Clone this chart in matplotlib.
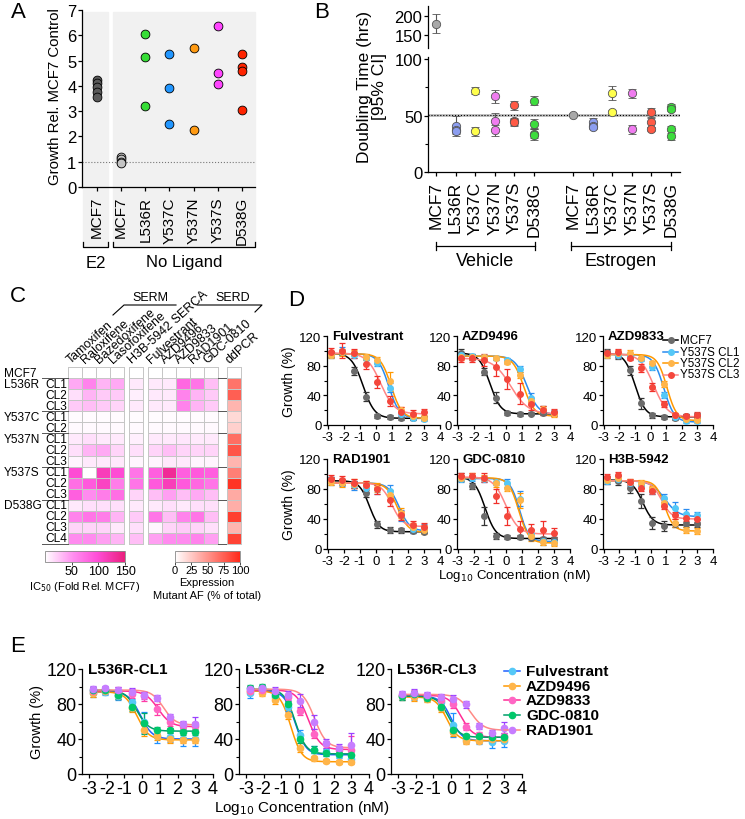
import numpy as np
import matplotlib
matplotlib.use('Agg')
import matplotlib.pyplot as plt
from matplotlib.lines import Line2D
from matplotlib.patches import Rectangle
from matplotlib.colors import LinearSegmentedColormap, Normalize
from matplotlib.cm import ScalarMappable

plt.rcParams['font.family'] = ['Liberation Sans', 'DejaVu Sans']
plt.rcParams['axes.unicode_minus'] = False
plt.rcParams['axes.linewidth'] = 0.9
plt.rcParams['xtick.major.width'] = 0.9
plt.rcParams['ytick.major.width'] = 0.9
plt.rcParams['ytick.minor.width'] = 0.8

# ---------------- panel A: growth relative to MCF7 ----------------
A_cats = ['MCF7', 'MCF7', 'L536R', 'Y537C', 'Y537N', 'Y537S', 'D538G']
A_vals = [[4.25, 4.1, 3.95, 3.75, 3.55],
          [1.2, 1.1, 1.0, 0.95],
          [6.05, 5.15, 3.2],
          [5.25, 3.9, 2.5],
          [5.5, 2.25],
          [6.35, 4.5, 4.07],
          [5.25, 4.75, 4.6, 3.05]]
A_colors = ['#5a5a5a', '#c4c4c4', '#35dd35', '#2196ff', '#ff9a12', '#ff45ff', '#ff2400']

# ---------------- panel B: doubling time ----------------
B_cats = ['MCF7', 'L536R', 'Y537C', 'Y537N', 'Y537S', 'D538G']
B_colors = ['#a8a8a8', '#8c9ef0', '#ffff4d', '#f07cf0', '#ff5a45', '#3ddc3d']
veh_mcf7 = 180
veh_mcf7_err = 25
veh_vals = [[], [41, 37, 36], [72, 36], [67, 45, 37], [59, 45, 44], [63, 43, 34, 33]]
veh_err = [[], [9, 2, 2], [3, 4], [6, 7, 5], [4, 3, 3], [4, 4, 4, 5]]
est_vals = [[51], [44, 41, 40], [70, 53], [70, 38], [53, 44, 38], [58, 56, 38, 32]]
est_err = [[1], [4, 2, 2], [6, 2], [4, 4], [4, 4, 2], [2, 2, 3, 4]]

# ---------------- panel C: heat map ----------------
row_group = ['MCF7', 'L536R', '', '', 'Y537C', '', 'Y537N', '', '', 'Y537S', '', '',
             'D538G', '', '', '']
row_clone = ['', 'CL1', 'CL2', 'CL3', 'CL1', 'CL2', 'CL1', 'CL2', 'CL3', 'CL1', 'CL2',
             'CL3', 'CL1', 'CL2', 'CL3', 'CL4']
drug_cols = ['Tamoxifen', 'Raloxifene', 'Bazedoxifene', 'Lasofoxifene', 'H3B-5942 SERCA',
             'Fulvestrant', 'AZD9496', 'AZD9833', 'RAD1901', 'GDC-0810']
ic50_fold = [[0, 0, 0, 0, 0, 0, 0, 0, 0, 0],
             [40, 60, 35, 40, 10, 10, 10, 80, 70, 30],
             [15, 35, 25, 25, 8, 10, 10, 60, 35, 25],
             [25, 30, 25, 20, 10, 10, 10, 60, 35, 25],
             [2, 2, 2, 2, 2, 2, 2, 2, 2, 2],
             [3, 3, 3, 3, 3, 3, 3, 3, 3, 3],
             [10, 15, 10, 10, 8, 10, 10, 12, 10, 10],
             [15, 35, 40, 20, 15, 20, 30, 20, 20, 20],
             [5, 10, 10, 10, 5, 5, 10, 10, 5, 5],
             [100, 0, 115, 100, 70, 85, 135, 85, 90, 85],
             [75, 90, 110, 65, 70, 90, 115, 90, 80, 70],
             [85, 55, 65, 75, 20, 30, 45, 30, 40, 30],
             [10, 15, 15, 15, 10, 10, 15, 10, 15, 15],
             [60, 70, 65, 35, 25, 70, 30, 60, 70, 30],
             [20, 20, 20, 10, 15, 5, 20, 25, 20, 15],
             [55, 55, 45, 35, 30, 45, 55, 55, 60, 45]]
ddpcr_af = [0, 65, 75, 35, 18, 22, 68, 80, 35, 60, 95, 40, 38, 90, 35, 88]

# ---------------- panels D/E: dose response ----------------
dose_x = [-2.8, -2.1, -1.35, -0.6, 0.1, 0.85, 1.55, 2.3, 3.0]

D_labels = ['MCF7', 'Y537S CL1', 'Y537S CL2', 'Y537S CL3']
D_drugs = ['Fulvestrant', 'AZD9496', 'AZD9833', 'RAD1901', 'GDC-0810', 'H3B-5942']
fulv_mean = [[96, 98, 73, 38, 12, 11, 9, 9, 9],
             [95, 100, 95, 91, 84, 50, 15, 10, 8],
             [95, 98, 97, 92, 87, 60, 20, 12, 10],
             [98, 100, 97, 82, 58, 32, 18, 15, 17]]
fulv_err = [[4, 3, 5, 6, 3, 3, 2, 2, 2], [4, 5, 4, 3, 4, 6, 5, 3, 2],
            [4, 5, 4, 4, 5, 12, 4, 3, 3], [6, 10, 6, 7, 8, 7, 6, 5, 5]]
fulv_fit = [[97, 9, -0.8, 1.2], [96, 9, 0.8, 1.3], [96, 9, 0.95, 1.3], [97, 15, 0.3, 1.0]]
azd96_mean = [[97, 92, 72, 37, 16, 15, 15, 16, 16],
              [94, 93, 92, 90, 87, 75, 37, 20, 16],
              [92, 92, 92, 90, 85, 68, 32, 22, 15],
              [90, 90, 88, 78, 62, 42, 28, 20, 17]]
azd96_err = [[5, 4, 5, 7, 3, 3, 2, 2, 2], [4, 3, 3, 3, 3, 4, 6, 5, 4],
             [4, 3, 3, 3, 3, 4, 5, 4, 4], [5, 5, 8, 12, 13, 14, 8, 6, 5]]
azd96_fit = [[97, 15, -1.0, 1.3], [93, 14, 1.3, 1.2], [93, 12, 1.1, 1.3], [90, 15, 0.3, 0.8]]
azd33_mean = [[98, 93, 74, 29, 13, 11, 10, 12, 13],
              [95, 95, 93, 89, 78, 40, 11, 6, 5],
              [95, 97, 97, 91, 83, 55, 13, 8, 7],
              [97, 98, 91, 77, 51, 28, 13, 12, 14]]
azd33_err = [[4, 4, 6, 7, 3, 3, 3, 3, 3], [4, 4, 4, 3, 4, 4, 3, 3, 2],
             [4, 4, 4, 3, 3, 4, 3, 3, 3], [4, 5, 4, 5, 5, 4, 3, 3, 3]]
azd33_fit = [[97, 11, -1.0, 1.3], [95, 4, 0.85, 1.3], [95, 6, 1.05, 1.4], [96, 11, 0.2, 1.0]]
rad_mean = [[92, 90, 86, 75, 33, 25, 25, 24, 23],
            [91, 89, 85, 82, 80, 78, 45, 27, 27],
            [90, 88, 87, 85, 82, 72, 48, 30, 26],
            [94, 92, 88, 85, 80, 65, 45, 32, 30]]
rad_err = [[4, 4, 5, 6, 5, 4, 3, 2, 2], [5, 5, 6, 6, 6, 7, 7, 5, 6],
           [5, 5, 6, 6, 6, 7, 7, 5, 6], [5, 5, 6, 6, 6, 7, 6, 5, 5]]
rad_fit = [[91, 23, -0.4, 1.4], [88, 24, 1.45, 1.3], [88, 22, 1.35, 1.3], [88, 30, 1.0, 1.3]]
gdc_mean = [[96, 84, 44, 18, 16, 16, 15, 14, 14],
            [93, 95, 93, 90, 88, 67, 20, 11, 10],
            [95, 97, 95, 88, 82, 65, 18, 10, 8],
            [98, 97, 95, 71, 44, 27, 26, 25, 22]]
gdc_err = [[5, 4, 12, 4, 3, 3, 2, 2, 2], [4, 4, 4, 4, 5, 10, 7, 5, 4],
           [4, 4, 4, 5, 5, 10, 7, 5, 4], [4, 4, 6, 9, 12, 10, 8, 13, 6]]
gdc_fit = [[96, 14, -1.3, 1.3], [94, 10, 0.85, 1.5], [95, 8, 0.8, 1.4], [96, 20, 0.0, 1.1]]
h3b_mean = [[92, 91, 82, 64, 35, 31, 33, 33, 33],
            [91, 93, 88, 85, 78, 68, 55, 47, 45],
            [92, 95, 90, 88, 80, 62, 35, 25, 24],
            [96, 99, 90, 82, 78, 58, 45, 42, 40]]
h3b_err = [[5, 6, 7, 9, 8, 7, 3, 3, 3], [4, 4, 4, 4, 4, 5, 8, 6, 5],
           [4, 4, 4, 4, 4, 5, 5, 4, 4], [4, 4, 4, 5, 5, 5, 5, 5, 5]]
h3b_fit = [[92, 32, -0.5, 1.3], [91, 43, 0.9, 1.0], [91, 24, 0.9, 1.5], [91, 40, 0.7, 1.3]]

E_labels = ['Fulvestrant', 'AZD9496', 'AZD9833', 'GDC-0810', 'RAD1901']
E_titles = ['L536R-CL1', 'L536R-CL2', 'L536R-CL3']
cl1_mean = [[93, 94, 89, 82, 59, 43, 42, 40, 40],
            [93, 95, 90, 75, 50, 43, 40, 39, 39],
            [95, 96, 94, 92, 89, 74, 60, 55, 55],
            [96, 96, 90, 77, 58, 50, 50, 48, 48],
            [97, 98, 96, 94, 90, 87, 65, 57, 57]]
cl1_err = [[5, 4, 4, 4, 12, 7, 5, 8, 8], [5, 4, 4, 4, 6, 4, 4, 3, 3],
           [4, 3, 5, 5, 5, 6, 5, 5, 5], [4, 3, 4, 5, 12, 4, 3, 3, 3],
           [4, 3, 4, 4, 4, 3, 4, 4, 8]]
cl1_fit = [[94, 40, -0.1, 1.3], [94, 39, -0.3, 1.3], [95, 54, 0.9, 1.2],
           [96, 49, -0.3, 1.3], [96, 56, 1.2, 1.3]]
cl2_mean = [[93, 96, 88, 77, 45, 28, 25, 22, 17],
            [95, 93, 85, 68, 30, 18, 15, 14, 14],
            [95, 96, 93, 88, 72, 46, 34, 28, 28],
            [98, 99, 90, 80, 40, 28, 24, 23, 22],
            [97, 98, 95, 90, 84, 60, 35, 30, 33]]
cl2_err = [[6, 5, 5, 5, 5, 4, 4, 4, 4], [4, 4, 5, 5, 5, 3, 2, 2, 2],
           [4, 4, 4, 4, 4, 5, 4, 4, 15], [4, 4, 4, 4, 4, 4, 3, 3, 3],
           [4, 4, 4, 5, 7, 8, 5, 4, 14]]
cl2_fit = [[95, 22, -0.2, 1.4], [95, 14, -0.45, 1.4], [96, 28, 0.55, 1.3],
           [97, 23, -0.2, 1.4], [97, 30, 0.9, 1.3]]
cl3_mean = [[89, 90, 88, 82, 56, 40, 39, 37, 38],
            [89, 88, 86, 75, 48, 38, 38, 40, 40],
            [90, 92, 89, 85, 80, 54, 45, 42, 43],
            [89, 91, 87, 77, 50, 43, 43, 42, 42],
            [91, 93, 90, 88, 86, 80, 55, 47, 53]]
cl3_err = [[4, 5, 4, 5, 14, 5, 5, 7, 7], [4, 4, 4, 4, 5, 4, 3, 3, 3],
           [4, 4, 4, 4, 4, 4, 3, 3, 4], [4, 4, 4, 4, 4, 3, 3, 3, 3],
           [4, 4, 4, 4, 4, 4, 3, 3, 6]]
cl3_fit = [[89, 38, 0.0, 1.4], [88, 38, -0.25, 1.4], [90, 42, 0.55, 1.3],
           [89, 42, -0.15, 1.4], [91, 50, 1.1, 1.2]]

D_mark = ['#6b6b6b', '#55c8f7', '#ffb54a', '#f4473c']
D_line = ['#000000', '#2a8cf0', '#ff9800', '#ff8585']
D_ecol = ['#333333', '#2a8cf0', '#ff9800', '#f0302a']
E_mark = ['#55c8f7', '#ffb54a', '#ff66c4', '#00c86a', '#c77dff']
E_line = ['#1e60ff', '#ff9800', '#ff2d95', '#009e6a', '#ff8a85']
E_ecol = ['#1e90ff', '#ff9800', '#ff3ca5', '#00a86b', '#9b40ff']

W, H = 745, 820
fig = plt.figure(figsize=(W / 100, H / 100), dpi=100)


def add_ax(left, top, right, bottom):
    return fig.add_axes([left / W, 1 - bottom / H, (right - left) / W, (bottom - top) / H])


def fx(x):
    return x / W


def fy(y):
    return 1 - y / H


def ftext(x, y, s, **kw):
    fig.text(fx(x), fy(y), s, **kw)


def fline(xs, ys, **kw):
    fig.add_artist(Line2D([fx(v) for v in xs], [fy(v) for v in ys],
                          transform=fig.transFigure, **kw))


def clean(ax):
    ax.spines['top'].set_visible(False)
    ax.spines['right'].set_visible(False)
    ax.set_facecolor('none')


def logistic(x, top, bottom, logic50, hill):
    return bottom + (top - bottom) / (1 + 10 ** ((x - logic50) * hill))


# ================= A =================
for x0, x1 in [(83, 108), (113, 255)]:
    fig.add_artist(Rectangle((fx(x0), fy(248)), (x1 - x0) / W, (248 - 13) / H,
                             transform=fig.transFigure, color='#f1f1f1', zorder=-5))
axA = add_ax(82, 11, 255, 188)
clean(axA)
for i, vals in enumerate(A_vals):
    axA.scatter([i] * len(vals), vals, s=40, c=A_colors[i], edgecolors='black',
                linewidths=0.6, zorder=3)
axA.axhline(1, color='#777777', lw=0.8, ls=':', zorder=1)
axA.set_xlim(-0.62, 6.54)
axA.set_ylim(0, 7)
axA.set_yticks(range(8))
axA.set_xticks(range(7))
axA.set_xticklabels(A_cats, rotation=90, fontsize=11)
axA.tick_params(axis='y', labelsize=12, length=3, pad=1)
axA.tick_params(axis='x', length=3)
ftext(55, 97, 'Growth Rel. MCF7 Control', rotation=90, fontsize=10.8, ha='center', va='center')
for x0, x1, lab in [(83, 108, 'E2'), (113, 255, 'No Ligand')]:
    fline([x0, x0, x1, x1], [243, 248, 248, 243], color='black', lw=0.9)
    ftext((x0 + x1) / 2, 263, lab, fontsize=12, ha='center', va='center')
ftext(18, 13, 'A', fontsize=16, ha='center', va='center')

# ================= B =================
axBt = add_ax(428, 7, 680, 49)
axB = add_ax(428, 58, 680, 173)
clean(axB)
clean(axBt)
axBt.spines['bottom'].set_visible(False)
axBt.errorbar([0], [veh_mcf7], yerr=[veh_mcf7_err], fmt='o', ms=6, mfc=B_colors[0],
              mec='#555555', mew=0.6, ecolor='#555555', elinewidth=0.8, capsize=3)
axBt.set_ylim(118, 225)
axBt.set_yticks([150, 200])
axBt.set_xticks([])
axBt.tick_params(axis='y', labelsize=12, length=3, pad=1)
for i in range(len(B_cats)):
    for xs, vals, errs in [(i, veh_vals[i], veh_err[i]), (i + 7, est_vals[i], est_err[i])]:
        if vals:
            axB.errorbar([xs] * len(vals), vals, yerr=errs, fmt='o', ms=6,
                         mfc=B_colors[i], mec='#555555', mew=0.6, ecolor='#555555',
                         elinewidth=0.8, capsize=3, capthick=0.8, zorder=3)
axB.axhline(51, color='#bdbdbd', lw=2, zorder=1)
axB.axhline(51, color='black', lw=0.8, ls=':', zorder=2)
for a in (axB, axBt):
    a.set_xlim(-0.41, 12.46)
axB.set_ylim(0, 102)
axB.set_yticks([0, 50, 100])
axB.set_yticks([25, 75], minor=True)
axB.set_xticks(list(range(6)) + list(range(7, 13)))
axB.set_xticklabels(B_cats + B_cats, rotation=90, fontsize=12.5)
axB.tick_params(axis='y', labelsize=12, length=3, pad=1)
axB.tick_params(axis='y', which='minor', length=2)
axB.tick_params(axis='x', length=3)
ftext(372, 87, 'Doubling Time (hrs)\n[95% CI]', rotation=90, fontsize=12.5,
      ha='center', va='center', multialignment='center', linespacing=1.0)
for x0, x1, lab in [(436, 535, 'Vehicle'), (571, 671, 'Estrogen')]:
    fline([x0, x1], [247, 247], color='black', lw=0.9)
    fline([x0, x0], [243, 251], color='black', lw=0.9)
    fline([x1, x1], [243, 251], color='black', lw=0.9)
    ftext((x0 + x1) / 2, 261, lab, fontsize=13, ha='center', va='center')
ftext(322, 12, 'B', fontsize=16, ha='center', va='center')

# ================= C =================
cmap_ic = LinearSegmentedColormap.from_list(
    'ic', [(0, '#ffffff'), (0.35, '#ff8ef0'), (0.65, '#ff4ed8'), (1.0, '#ea1f7d')])
cmap_af = LinearSegmentedColormap.from_list('af', ['#ffffff', '#ff2a1a'])
axC = add_ax(0, 290, 330, 610)
axC.set_xlim(0, 330)
axC.set_ylim(610, 290)
axC.axis('off')
row_edges = np.linspace(368, 545, len(row_clone) + 1)
row_mid = (row_edges[:-1] + row_edges[1:]) / 2
col_left = [68, 82, 96, 110, 129, 148, 162, 176, 190, 204]
ic = np.array(ic50_fold, dtype=float)
for j, x0 in enumerate(col_left):
    axC.pcolormesh([x0, x0 + 14], row_edges, ic[:, j:j + 1], cmap=cmap_ic, vmin=0, vmax=150,
                   edgecolors='#c6c6c6', linewidth=0.5)
axC.pcolormesh([227, 241], row_edges, np.array(ddpcr_af, dtype=float)[:, None], cmap=cmap_af,
               vmin=0, vmax=100, edgecolors='#c6c6c6', linewidth=0.5)
for j, lab in enumerate(drug_cols + ['ddPCR']):
    x0 = col_left[j] if j < len(col_left) else 227
    axC.text(x0 + 3, 364, lab, rotation=42, rotation_mode='anchor', ha='left',
             va='baseline', fontsize=9)
for i in range(len(row_clone)):
    if row_group[i]:
        axC.text(4, row_mid[i], row_group[i], fontsize=8.6, ha='left', va='center')
    if row_clone[i]:
        axC.text(67.5, row_mid[i], row_clone[i], fontsize=8.6, ha='right', va='center')
for b in [1, 4, 6, 9, 12, 16]:
    axC.plot([42, 68], [row_edges[b], row_edges[b]], color='#555555', lw=0.7)
    axC.plot([218, 226], [row_edges[b], row_edges[b]], color='#555555', lw=0.7)
axC.plot([113, 124, 176], [316, 306, 306], color='black', lw=0.8)
axC.plot([197, 262, 255], [306, 306, 313], color='black', lw=0.8)
axC.text(150, 298, 'SERM', fontsize=9, ha='center', va='center')
axC.text(233, 298, 'SERD', fontsize=9, ha='center', va='center')

caxI = add_ax(45, 552, 125, 563)
cbI = fig.colorbar(ScalarMappable(Normalize(0, 150), cmap_ic), cax=caxI,
                   orientation='horizontal', ticks=[50, 100, 150])
caxE = add_ax(175, 552, 240, 563)
cbE = fig.colorbar(ScalarMappable(Normalize(0, 100), cmap_af), cax=caxE,
                   orientation='horizontal', ticks=[0, 25, 50, 75, 100])
for cb, fs in [(cbI, 9), (cbE, 8)]:
    cb.outline.set_edgecolor('#888888')
    cb.outline.set_linewidth(0.6)
    cb.ax.tick_params(labelsize=fs, length=2, width=0.5, pad=0.5)
ftext(85, 587, 'IC$_{50}$ (Fold Rel. MCF7)', fontsize=8, ha='center', va='center')
ftext(207, 583, 'Expression', fontsize=8, ha='center', va='center')
ftext(207, 596, 'Mutant AF (% of total)', fontsize=8, ha='center', va='center')
ftext(18, 297, 'C', fontsize=16, ha='center', va='center')


# ================= D / E =================
def dose_panel(ax, means, errs, fits, mcol, lcol, ecol, ms, lw):
    xs = np.linspace(dose_x[0], dose_x[-1], 200)
    for k in range(len(means)):
        ax.plot(xs, logistic(xs, *fits[k]), color=lcol[k], lw=lw, zorder=2)
        ax.errorbar(dose_x, means[k], yerr=errs[k], fmt='o', ms=ms, mfc=mcol[k],
                    mec=mcol[k], ecolor=ecol[k], elinewidth=0.9, capsize=2,
                    capthick=0.9, zorder=3)


D_sets = [(fulv_mean, fulv_err, fulv_fit), (azd96_mean, azd96_err, azd96_fit),
          (azd33_mean, azd33_err, azd33_fit), (rad_mean, rad_err, rad_fit),
          (gdc_mean, gdc_err, gdc_fit), (h3b_mean, h3b_err, h3b_fit)]
D_pos = [(327, 337, 440, 426), (457, 337, 570, 426), (603, 337, 713, 426),
         (327, 460, 440, 550), (457, 460, 570, 550), (603, 460, 713, 550)]
for n, (means, errs, fits) in enumerate(D_sets):
    ax = add_ax(*D_pos[n])
    clean(ax)
    dose_panel(ax, means, errs, fits, D_mark, D_line, D_ecol, 4, 1.1)
    ax.set_xlim(-3.05, 4)
    ax.set_ylim(0, 120)
    ax.set_xticks(range(-3, 5))
    ax.set_yticks([0, 40, 80, 120])
    ax.set_yticks([20, 60, 100], minor=True)
    ax.tick_params(labelsize=9.5, length=3, pad=1)
    ax.tick_params(axis='y', which='minor', length=2)
    ax.text(0.045, 1.0, D_drugs[n], transform=ax.transAxes, fontsize=9.5,
            fontweight='bold', va='center', ha='left')
    if n % 3 == 0:
        ax.set_ylabel('Growth (%)', fontsize=10, labelpad=2)
for k, lab in enumerate(D_labels):
    y = 341 + 11.5 * k
    fline([663, 678], [y, y], color=D_line[k], lw=1.1)
    fline([670.5], [y], marker='o', ms=4, color=D_mark[k], lw=0)
    ftext(680, y, lab, fontsize=8.4, ha='left', va='center')
ftext(514, 576, 'Log$_{10}$ Concentration (nM)', fontsize=9.5, ha='center', va='center')
ftext(296, 301, 'D', fontsize=16, ha='center', va='center')

E_sets = [(cl1_mean, cl1_err, cl1_fit), (cl2_mean, cl2_err, cl2_fit),
          (cl3_mean, cl3_err, cl3_fit)]
E_pos = [(82, 670, 213, 775), (239, 670, 369, 775), (391, 670, 522, 775)]
for n, (means, errs, fits) in enumerate(E_sets):
    ax = add_ax(*E_pos[n])
    clean(ax)
    dose_panel(ax, means, errs, fits, E_mark, E_line, E_ecol, 4.5, 1.1)
    ax.set_xlim(-3.4, 4)
    ax.set_ylim(0, 120)
    ax.set_xticks(range(-3, 5))
    ax.set_yticks([0, 40, 80, 120])
    ax.set_yticks([20, 60, 100], minor=True)
    ax.tick_params(labelsize=13, length=3, pad=1)
    ax.tick_params(axis='y', which='minor', length=2)
    ax.text(0.046, 1.0, E_titles[n], transform=ax.transAxes, fontsize=11,
            fontweight='bold', va='center', ha='left')
    if n == 0:
        ax.set_ylabel('Growth (%)', fontsize=10.5, labelpad=2)
for k, lab in enumerate(E_labels):
    y = 672 + 14.7 * k
    fline([504, 520], [y, y], color=E_line[k], lw=1.1)
    fline([512], [y], marker='o', ms=4.5, color=E_mark[k], lw=0)
    ftext(526, y, lab, fontsize=11, fontweight='bold', ha='left', va='center')
ftext(302, 808, 'Log$_{10}$ Concentration (nM)', fontsize=11, ha='center', va='center')
ftext(18, 647, 'E', fontsize=16, ha='center', va='center')

fig.savefig('out.png', dpi=100)
